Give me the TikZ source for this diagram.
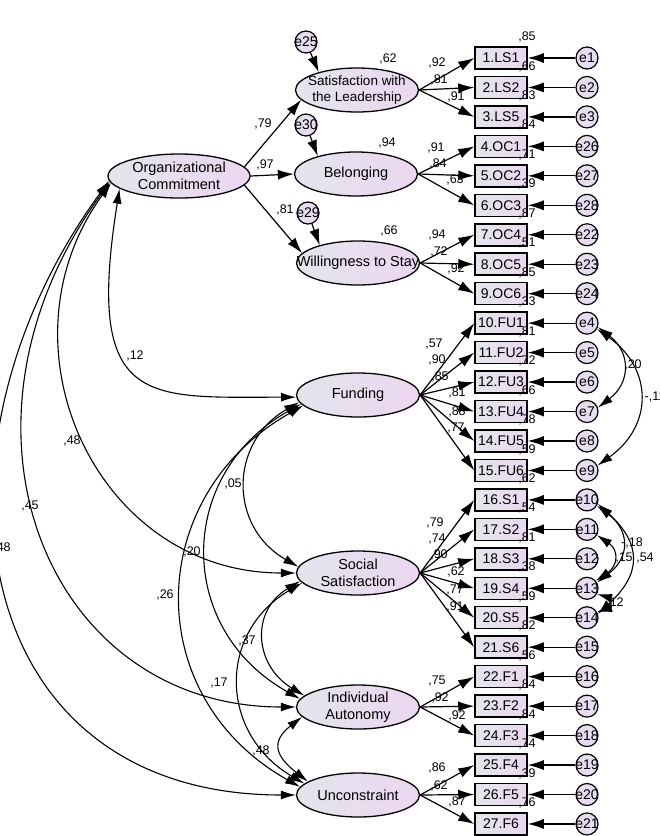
\documentclass[tikz,border=0pt]{standalone}
\usepackage{fontspec}
\setmainfont{Liberation Sans}
\usetikzlibrary{arrows.meta,positioning,shapes.geometric}
\definecolor{latleft}{HTML}{E2E5EC}
\definecolor{latright}{HTML}{ECD6F0}
\definecolor{boxleft}{HTML}{E4E6EC}
\definecolor{boxright}{HTML}{EAD8F0}
\definecolor{errfill}{HTML}{E7DCF0}
\tikzset{
  latent/.style={
    draw,
    ellipse,
    line width=1.3pt,
    minimum width=123pt,
    minimum height=44pt,
    inner xsep=-22pt,
    inner ysep=-3pt,
    align=center,
    left color=latleft,
    right color=latright,
    font=\fontsize{14.5}{17}\selectfont
  },
  itembox/.style={
    draw,
    line width=1.5pt,
    minimum width=52pt,
    minimum height=22pt,
    inner sep=0pt,
    left color=boxleft,
    right color=boxright,
    font=\fontsize{14}{15}\selectfont
  },
  errc/.style={
    draw,
    circle,
    line width=1.2pt,
    minimum size=22pt,
    inner sep=-2pt,
    fill=errfill,
    font=\fontsize{14}{15}\selectfont
  },
  est/.style={font=\fontsize{12.5}{13}\selectfont,inner sep=0pt},
  semarrow/.style={-{Latex[length=16pt,width=10pt]},line width=1.2pt},
  covarrow/.style={{Latex[length=15pt,width=9pt]}-{Latex[length=15pt,width=9pt]},line width=1.1pt}
}

\begin{document}
\begin{tikzpicture}[x=1pt,y=-1pt]
  \useasboundingbox (0,0) rectangle (660,836);
  \node[latent,minimum width=142pt] (oc) at (179,176) {Organizational\\Commitment};
  \node[latent,font=\fontsize{13.5}{16}\selectfont] (sat) at (357,90) {Satisfaction with\\the Leadership};
  \node[latent] (bel) at (356,174) {Belonging};
  \node[latent] (wil) at (358,263) {Willingness to Stay};
  \node[latent] (fun) at (358,395) {Funding};
  \node[latent] (soc) at (358,573) {Social\\Satisfaction};
  \node[latent] (ind) at (358,707) {Individual\\Autonomy};
  \node[latent] (unc) at (358,795) {Unconstraint};

  \node[errc] (e25) at (306,42) {e25};
  \node[errc] (e30) at (306,125) {e30};
  \node[errc] (e29) at (308,213) {e29};
  \draw[semarrow] (e25) -- (sat.155);
  \draw[semarrow] (e30) -- (bel.155);
  \draw[semarrow] (e29) -- (wil.155);

  \draw[semarrow] (oc.8) -- (sat.190);
  \draw[semarrow] (oc.east) -- (bel.west);
  \draw[semarrow] (oc.-8) -- (wil.170);
  \node[est] (s1) at (263,124) {,79};
  \node[est] (s2) at (265,165) {,97};
  \node[est] (s3) at (285,210) {,81};
  \node[est] (q1) at (388,59) {,62};
  \node[est] (q2) at (387,143) {,94};
  \node[est] (q3) at (389,231) {,66};

  \foreach \i/\item/\err/\r in {1/LS1/e1/85,2/LS2/e2/66,3/LS5/e3/83,4/OC1/e26/84,
      5/OC2/e27/71,6/OC3/e28/39,7/OC4/e22/87,8/OC5/e23/51,9/OC6/e24/85,
      10/FU1/e4/33,11/FU2/e5/81,12/FU3/e6/72,13/FU4/e7/66,14/FU5/e8/78,15/FU6/e9/59,
      16/S1/e10/62,17/S2/e11/54,18/S3/e12/81,19/S4/e13/38,20/S5/e14/59,21/S6/e15/82,
      22/F1/e16/56,23/F2/e17/84,24/F3/e18/84,25/F4/e19/74,26/F5/e20/39,27/F6/e21/76}{
    \node[itembox] (b\i) at (501,{58+29.46*(\i-1)}) {\i.\item};
    \node[errc] (\err) at (587,{58+29.46*(\i-1)}) {\err};
    \node[est] (r\i) at (527,{37+29.46*(\i-1)}) {,\r};
    \draw[semarrow] (\err) -- (b\i);
  }

  \foreach \i in {1,2,3} \draw[semarrow] (sat.east) -- (b\i.west);
  \foreach \i in {4,5,6} \draw[semarrow] (bel.east) -- (b\i.west);
  \foreach \i in {7,8,9} \draw[semarrow] (wil.east) -- (b\i.west);
  \foreach \i in {10,...,15} \draw[semarrow] (fun.east) -- (b\i.west);
  \foreach \i in {16,...,21} \draw[semarrow] (soc.east) -- (b\i.west);
  \foreach \i in {22,23,24} \draw[semarrow] (ind.east) -- (b\i.west);
  \foreach \i in {25,26,27} \draw[semarrow] (unc.east) -- (b\i.west);

  \foreach \v/\x/\y [count=\k] in {92/437/63,81/439/80,91/456/97,91/436/148,84/438/164,
      63/455/180,94/437/235,72/439/252,92/456/269,57/434/344,90/437/360,85/440/377,
      81/457/393,88/457/412,77/456/428,79/435/523,74/437/539,90/439/555,62/456/572,
      77/455/590,91/455/607,75/437/681,92/440/698,92/457/716,86/437/768,62/439/786,87/457/802}
    \node[est] (ld\k) at (\x,\y) {,\v};

  \draw[covarrow] (oc.192) .. controls +(-35,220) and +(-150,0) .. (fun.182);
  \draw[covarrow] (oc.186) .. controls +(-118,162) and +(-200,0) .. (soc.180);
  \draw[covarrow] (oc.185) .. controls +(-177,243) and +(-250,0) .. (ind.180);
  \draw[covarrow] (oc.184) .. controls +(-195,267) and +(-330,0) .. (unc.180);
  \draw[covarrow] (fun.187) .. controls +(-70,40) and +(-70,-40) .. (soc.174);
  \draw[covarrow] (fun.189) .. controls +(-125,70) and +(-125,-70) .. (ind.172);
  \draw[covarrow] (fun.191) .. controls +(-160,90) and +(-160,-90) .. (unc.172);
  \draw[covarrow] (soc.188) .. controls +(-50,30) and +(-50,-30) .. (ind.168);
  \draw[covarrow] (soc.190) .. controls +(-85,50) and +(-85,-50) .. (unc.168);
  \draw[covarrow] (ind.190) .. controls +(-32,25) and +(-32,-25) .. (unc.165);
  \node[est] (c1) at (135,356) {,12};
  \node[est] (c2) at (72,441) {,48};
  \node[est] (c3) at (30,506) {,45};
  \node[est] (c4) at (2,548) {,48};
  \node[est] (c5) at (233,484) {,05};
  \node[est] (c6) at (192,552) {,20};
  \node[est] (c7) at (165,595) {,26};
  \node[est] (c8) at (247,641) {,37};
  \node[est] (c9) at (219,683) {,17};
  \node[est] (c10) at (261,751) {,48};

  \draw[covarrow] (e4.-20) .. controls +(33,25) and +(33,-25) .. (e7.20);
  \draw[covarrow] (e4.-30) .. controls +(56,40) and +(56,-40) .. (e9.25);
  \draw[covarrow] (e10.-30) .. controls +(33,25) and +(33,-25) .. (e13.30);
  \draw[covarrow] (e10.-20) .. controls +(44,40) and +(44,-40) .. (e14.20);
  \draw[covarrow] (e11.-30) .. controls +(22,15) and +(22,-15) .. (e13.40);
  \draw[covarrow] (e13.-30) .. controls +(14,4) and +(14,-4) .. (e14.30);
  \node[est] (d1) at (633,365) {,20};
  \node[est] (d2) at (655,397) {-,11};
  \node[est] (d3) at (632,543) {-,18};
  \node[est] (d4) at (624,558) {,15};
  \node[est] (d5) at (645,558) {,54};
  \node[est] (d6) at (615,603) {,12};
\end{tikzpicture}
\end{document}
